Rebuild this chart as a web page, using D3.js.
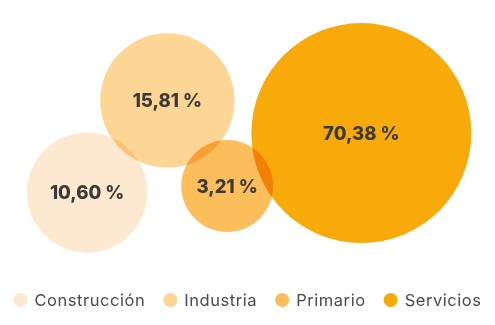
<!DOCTYPE html>
<html>
<head>
<meta charset="utf-8">
<script src="https://cdn.jsdelivr.net/npm/d3@7"></script>
<style>
  html, body { margin: 0; padding: 0; background: #fff; }
  svg { display: block; }
  .bubble { mix-blend-mode: multiply; }
</style>
</head>
<body>
<svg id="chart" width="495" height="325"></svg>
<script>
// Sector shares of employment (%)
const categories = ["Construcción", "Industria", "Primario", "Servicios"];
const values = [10.60, 15.81, 3.21, 70.38];
const labels = ["10,60 %", "15,81 %", "3,21 %", "70,38 %"];
const colors = ["#FDE9CF", "#FDD594", "#FBBE5A", "#F7AA0A"];

// Packed-bubble layout anchors (fractions of the plot area)
const packX = [0.176, 0.338, 0.459, 0.730];
const packY = [0.713, 0.372, 0.689, 0.493];

const W = 495, H = 325, plotH = 270;
const svg = d3.select("#chart");

const x = d3.scaleLinear().domain([0, 1]).range([0, W]);
const y = d3.scaleLinear().domain([0, 1]).range([0, plotH]);
const r = d3.scaleSqrt().domain([0, d3.max(values)]).range([28.5, 110]);

const data = categories.map((c, i) => ({
  name: c, value: values[i], label: labels[i], color: colors[i],
  cx: x(packX[i]), cy: y(packY[i])
}));

const bubbles = svg.append("g");
bubbles.selectAll("circle")
  .data(data)
  .join("circle")
  .attr("class", "bubble")
  .attr("cx", d => d.cx)
  .attr("cy", d => d.cy)
  .attr("r", d => r(d.value))
  .attr("fill", d => d.color);

svg.append("g").selectAll("text")
  .data(data)
  .join("text")
  .attr("x", d => d.cx)
  .attr("y", d => d.cy)
  .attr("dy", "0.36em")
  .attr("text-anchor", "middle")
  .attr("font-family", "Inter, 'Open Sans', sans-serif")
  .attr("font-weight", 800)
  .attr("font-size", 18.5)
  .attr("fill", "#3b3a38")
  .text(d => d.label);

// Legend, centered horizontally under the bubbles
const legend = svg.append("g").attr("transform", "translate(0,300)");
const items = legend.selectAll("g")
  .data(data)
  .join("g");
items.append("circle")
  .attr("r", 7)
  .attr("cx", 0)
  .attr("cy", 0)
  .attr("fill", d => d.color);
items.append("text")
  .attr("x", 14)
  .attr("dy", "0.35em")
  .attr("font-family", "Inter, 'Open Sans', sans-serif")
  .attr("font-size", 16.5)
  .attr("letter-spacing", 0.55)
  .attr("fill", "#4a4a4a")
  .text(d => d.name);

const gap = 18;
const widths = [];
items.each(function () {
  const w = 14 + d3.select(this).select("text").node().getComputedTextLength() + 7;
  widths.push(w);
});
const total = d3.sum(widths) + gap * (widths.length - 1);
let start = (W - total) / 2 + 7;
items.attr("transform", (d, i) => {
  const t = `translate(${start},0)`;
  start += widths[i] + gap;
  return t;
});
</script>
</body>
</html>
